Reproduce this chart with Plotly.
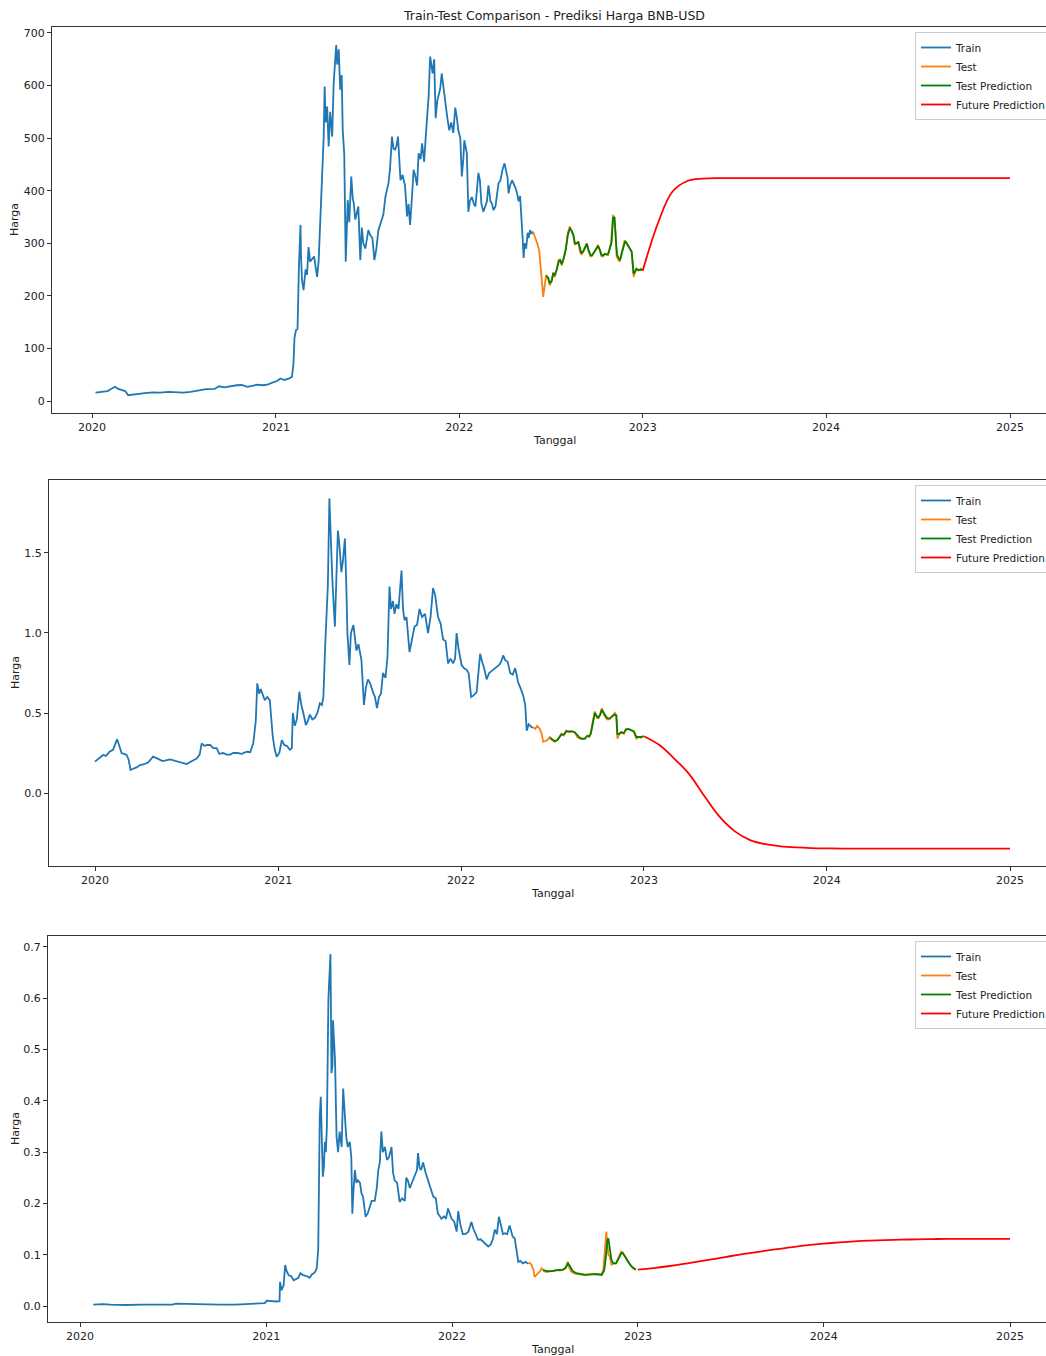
import pandas as pd
import plotly.graph_objects as go

# ---------------- Panel 1 : BNB-USD ----------------
bnb_train_dates = [
    "2020-01-08","2020-01-15","2020-01-22","2020-02-01","2020-02-08","2020-02-16","2020-02-22","2020-03-01","2020-03-07","2020-03-13",
    "2020-03-20","2020-04-01","2020-04-15","2020-05-01","2020-05-15","2020-06-01","2020-06-15","2020-07-01","2020-07-15","2020-08-01",
    "2020-08-15","2020-09-01","2020-09-10","2020-09-20","2020-10-01","2020-10-15","2020-10-25","2020-11-05","2020-11-15","2020-11-25",
    "2020-12-05","2020-12-15","2020-12-25","2021-01-03","2021-01-10","2021-01-18","2021-01-25","2021-02-02","2021-02-05","2021-02-07",
    "2021-02-10","2021-02-13","2021-02-16","2021-02-19","2021-02-20","2021-02-22","2021-02-25","2021-03-01","2021-03-04","2021-03-07",
    "2021-03-10","2021-03-14","2021-03-18","2021-03-21","2021-03-24","2021-03-27","2021-03-30","2021-04-03","2021-04-06","2021-04-08",
    "2021-04-10","2021-04-13","2021-04-16","2021-04-19","2021-04-23","2021-04-26","2021-04-29","2021-05-01","2021-05-03","2021-05-06",
    "2021-05-09","2021-05-12","2021-05-14","2021-05-17","2021-05-20","2021-05-22","2021-05-24","2021-05-27","2021-05-31","2021-06-03",
    "2021-06-05","2021-06-08","2021-06-11","2021-06-14","2021-06-18","2021-06-21","2021-06-24","2021-06-28","2021-07-04","2021-07-08",
    "2021-07-12","2021-07-16","2021-07-20","2021-07-24","2021-07-29","2021-08-03","2021-08-07","2021-08-10","2021-08-13","2021-08-16",
    "2021-08-20","2021-08-23","2021-08-26","2021-08-29","2021-09-01","2021-09-06","2021-09-10","2021-09-15","2021-09-19","2021-09-22",
    "2021-09-25","2021-09-29","2021-10-02","2021-10-05","2021-10-09","2021-10-12","2021-10-16","2021-10-19","2021-10-23","2021-10-26",
    "2021-10-29","2021-11-01","2021-11-04","2021-11-07","2021-11-09","2021-11-12","2021-11-15","2021-11-18","2021-11-21","2021-11-24",
    "2021-11-27","2021-12-01","2021-12-04","2021-12-08","2021-12-12","2021-12-16","2021-12-20","2021-12-24","2021-12-27","2021-12-30",
    "2022-01-03","2022-01-06","2022-01-09","2022-01-11","2022-01-16","2022-01-19","2022-01-22","2022-01-26","2022-01-30","2022-02-02",
    "2022-02-05","2022-02-08","2022-02-11","2022-02-14","2022-02-18","2022-02-22","2022-02-25","2022-02-28","2022-03-04","2022-03-07",
    "2022-03-10","2022-03-14","2022-03-17","2022-03-20","2022-03-24","2022-03-28","2022-04-01","2022-04-04","2022-04-07","2022-04-09",
    "2022-04-12","2022-04-16","2022-04-19","2022-04-23","2022-04-26","2022-04-29","2022-05-02","2022-05-05","2022-05-07","2022-05-09",
    "2022-05-11","2022-05-14","2022-05-17","2022-05-19","2022-05-22","2022-05-25","2022-05-28"]
bnb_train = [
    16,17,17.5,19,23,27,23,21,19,11,
    12,12.5,15,16.5,16,17.5,16.5,16,17.5,20,
    22.5,23,28,26,28,30,30.5,27,29,31,
    30,31,35,38,43,40,42,46,72,120,
    135,137,260,335,275,230,211,250,240,293,
    265,270,275,255,236,265,338,401,500,598,
    530,560,484,550,503,605,640,677,640,669,
    592,620,515,470,265,330,382,340,427,385,
    376,345,357,370,268,330,300,290,325,315,
    310,268,290,325,340,355,389,400,414,440,
    503,480,478,485,503,420,430,410,351,375,
    335,390,440,430,410,471,460,490,455,500,
    547,580,655,640,623,650,538,570,580,594,
    623,590,567,540,515,530,510,558,540,515,
    500,427,460,496,471,360,380,388,375,370,
    400,434,420,375,360,370,380,410,380,375,
    363,370,390,414,420,440,452,440,425,395,
    410,420,414,405,395,380,390,325,310,272,
    300,290,320,310,325,318,322]

bnb_test_dates = [
    "2022-05-28","2022-06-01","2022-06-05","2022-06-09","2022-06-12","2022-06-13","2022-06-15","2022-06-17","2022-06-20","2022-06-23",
    "2022-06-27","2022-06-30","2022-07-04","2022-07-07","2022-07-10","2022-07-14","2022-07-18","2022-07-20","2022-07-24","2022-07-28",
    "2022-08-01","2022-08-05","2022-08-09","2022-08-12","2022-08-16","2022-08-19","2022-08-23","2022-08-26","2022-08-29","2022-09-01",
    "2022-09-05","2022-09-09","2022-09-11","2022-09-15","2022-09-19","2022-09-21","2022-09-25","2022-09-28","2022-10-01","2022-10-04",
    "2022-10-08","2022-10-11","2022-10-14","2022-10-18","2022-10-21","2022-10-24","2022-10-27","2022-10-30","2022-11-03","2022-11-05",
    "2022-11-08","2022-11-10","2022-11-13","2022-11-16","2022-11-20","2022-11-23","2022-11-26","2022-11-30","2022-12-03","2022-12-06",
    "2022-12-10","2022-12-14","2022-12-17","2022-12-19","2022-12-23","2022-12-26","2022-12-29","2022-12-31"]
bnb_test = [
    322,312,300,287,255,230,215,198,220,240,
    232,220,228,245,236,250,270,268,258,275,
    290,320,332,325,315,297,300,303,285,278,
    285,295,300,285,275,275,280,285,290,297,
    285,275,275,280,278,278,290,300,354,345,
    320,275,270,265,280,295,306,300,295,290,
    285,236,248,252,248,250,252,248]

bnb_pred_dates = [
    "2022-06-23","2022-06-27","2022-06-30","2022-07-04","2022-07-07","2022-07-10","2022-07-14","2022-07-18","2022-07-21","2022-07-24",
    "2022-07-28","2022-08-01","2022-08-05","2022-08-09","2022-08-12","2022-08-16","2022-08-19","2022-08-23","2022-08-26","2022-08-29",
    "2022-09-01","2022-09-05","2022-09-09","2022-09-12","2022-09-15","2022-09-19","2022-09-22","2022-09-25","2022-09-28","2022-10-01",
    "2022-10-04","2022-10-08","2022-10-11","2022-10-14","2022-10-18","2022-10-21","2022-10-24","2022-10-27","2022-10-31","2022-11-03",
    "2022-11-06","2022-11-09","2022-11-11","2022-11-14","2022-11-17","2022-11-20","2022-11-23","2022-11-27","2022-11-30","2022-12-03",
    "2022-12-06","2022-12-10","2022-12-14","2022-12-17","2022-12-20","2022-12-24","2022-12-28","2022-12-31"]
bnb_pred = [
    238,234,224,229,243,240,250,266,268,260,
    272,288,316,328,325,316,300,300,302,288,
    281,285,294,299,288,278,277,281,286,290,
    295,287,278,277,280,279,279,288,302,348,
    350,300,278,272,268,280,293,304,300,295,
    290,284,242,248,251,249,250,249]

# ---------------- Panel 2 ----------------
xrp_train_dates = [
    "2020-01-01","2020-01-06","2020-01-12","2020-01-17","2020-01-23","2020-01-30","2020-02-06","2020-02-10","2020-02-14","2020-02-18",
    "2020-02-23","2020-02-28","2020-03-04","2020-03-08","2020-03-12","2020-03-16","2020-03-24","2020-03-31","2020-04-08","2020-04-16",
    "2020-04-26","2020-05-05","2020-05-15","2020-05-30","2020-06-10","2020-06-20","2020-07-02","2020-07-10","2020-07-22","2020-07-28",
    "2020-08-01","2020-08-06","2020-08-12","2020-08-18","2020-08-24","2020-08-31","2020-09-05","2020-09-13","2020-09-20","2020-09-27",
    "2020-10-03","2020-10-12","2020-10-20","2020-10-30","2020-11-06","2020-11-12","2020-11-17","2020-11-20","2020-11-24","2020-11-27",
    "2020-12-01","2020-12-05","2020-12-10","2020-12-15","2020-12-21","2020-12-25","2020-12-29","2021-01-03","2021-01-08","2021-01-13",
    "2021-01-18","2021-01-24","2021-01-28","2021-01-30","2021-02-03","2021-02-07","2021-02-12","2021-02-16","2021-02-20","2021-02-25",
    "2021-03-01","2021-03-05","2021-03-10","2021-03-15","2021-03-20","2021-03-25","2021-03-29","2021-04-01","2021-04-05","2021-04-07",
    "2021-04-10","2021-04-13","2021-04-16","2021-04-19","2021-04-22","2021-04-24","2021-04-27","2021-04-30","2021-05-03","2021-05-07",
    "2021-05-10","2021-05-14","2021-05-17","2021-05-19","2021-05-23","2021-05-26","2021-05-31","2021-06-03","2021-06-06","2021-06-10",
    "2021-06-16","2021-06-21","2021-06-25","2021-06-29","2021-07-04","2021-07-09","2021-07-13","2021-07-17","2021-07-21","2021-07-25",
    "2021-07-29","2021-08-03","2021-08-07","2021-08-11","2021-08-14","2021-08-18","2021-08-21","2021-08-25","2021-08-29","2021-09-04",
    "2021-09-07","2021-09-10","2021-09-14","2021-09-20","2021-09-25","2021-09-30","2021-10-05","2021-10-10","2021-10-15","2021-10-21",
    "2021-10-27","2021-11-01","2021-11-06","2021-11-10","2021-11-16","2021-11-21","2021-11-26","2021-12-01","2021-12-06","2021-12-11",
    "2021-12-16","2021-12-20","2021-12-23","2021-12-27","2022-01-02","2022-01-07","2022-01-12","2022-01-16","2022-01-21","2022-01-26",
    "2022-02-01","2022-02-05","2022-02-08","2022-02-12","2022-02-16","2022-02-21","2022-02-26","2022-03-02","2022-03-06","2022-03-12",
    "2022-03-18","2022-03-22","2022-03-26","2022-03-30","2022-04-04","2022-04-09","2022-04-14","2022-04-19","2022-04-25","2022-04-29",
    "2022-05-05","2022-05-09","2022-05-12","2022-05-16","2022-05-19","2022-05-22","2022-05-25"]
xrp_train = [
    0.196,0.21,0.225,0.238,0.232,0.258,0.27,0.30,0.335,0.30,
    0.25,0.245,0.238,0.21,0.144,0.15,0.16,0.175,0.18,0.19,
    0.227,0.215,0.20,0.21,0.20,0.19,0.181,0.195,0.216,0.24,
    0.31,0.295,0.30,0.30,0.28,0.28,0.245,0.25,0.24,0.24,
    0.25,0.25,0.245,0.258,0.255,0.31,0.45,0.685,0.62,0.65,
    0.62,0.58,0.60,0.58,0.35,0.27,0.227,0.25,0.33,0.30,
    0.295,0.27,0.28,0.50,0.42,0.46,0.633,0.55,0.50,0.425,
    0.45,0.49,0.46,0.47,0.50,0.56,0.55,0.60,0.95,1.10,
    1.30,1.84,1.55,1.33,1.15,1.04,1.35,1.64,1.55,1.38,
    1.45,1.59,1.27,1.00,0.80,1.00,1.05,0.98,0.89,0.93,
    0.83,0.55,0.66,0.71,0.68,0.63,0.60,0.53,0.60,0.62,
    0.75,0.72,0.85,1.29,1.15,1.20,1.12,1.18,1.15,1.39,
    1.15,1.08,1.10,0.88,0.95,1.04,1.05,1.15,1.10,1.12,
    1.00,1.10,1.28,1.24,1.10,1.06,0.96,0.95,0.81,0.84,
    0.81,0.84,1.00,0.90,0.80,0.78,0.77,0.75,0.60,0.61,
    0.63,0.78,0.87,0.82,0.78,0.71,0.75,0.76,0.77,0.78,
    0.80,0.82,0.86,0.83,0.82,0.75,0.74,0.78,0.69,0.66,
    0.61,0.55,0.39,0.43,0.42,0.41,0.41]

xrp_test_dates = [
    "2022-05-25","2022-05-29","2022-06-02","2022-06-07","2022-06-11","2022-06-14","2022-06-18","2022-06-22","2022-06-27","2022-07-02",
    "2022-07-07","2022-07-12","2022-07-16","2022-07-20","2022-07-25","2022-07-30","2022-08-04","2022-08-10","2022-08-16","2022-08-21",
    "2022-08-26","2022-08-31","2022-09-05","2022-09-10","2022-09-14","2022-09-17","2022-09-21","2022-09-25","2022-09-29","2022-10-02",
    "2022-10-06","2022-10-09","2022-10-13","2022-10-19","2022-10-24","2022-10-29","2022-11-04","2022-11-07","2022-11-09","2022-11-13",
    "2022-11-17","2022-11-22","2022-11-26","2022-12-01","2022-12-07","2022-12-12","2022-12-17","2022-12-22","2022-12-26","2022-12-31"]
xrp_test = [
    0.41,0.40,0.42,0.40,0.37,0.32,0.325,0.33,0.35,0.33,
    0.32,0.33,0.35,0.37,0.36,0.39,0.38,0.385,0.38,0.35,
    0.34,0.335,0.34,0.36,0.35,0.38,0.45,0.51,0.47,0.47,
    0.50,0.53,0.49,0.46,0.46,0.48,0.50,0.48,0.34,0.37,
    0.38,0.37,0.40,0.40,0.39,0.385,0.34,0.35,0.345,0.355]

xrp_pred_dates = [
    "2022-06-27","2022-07-02","2022-07-07","2022-07-12","2022-07-16","2022-07-20","2022-07-25","2022-07-30","2022-08-04","2022-08-10",
    "2022-08-16","2022-08-21","2022-08-26","2022-08-31","2022-09-05","2022-09-10","2022-09-14","2022-09-17","2022-09-21","2022-09-25",
    "2022-09-29","2022-10-02","2022-10-06","2022-10-09","2022-10-13","2022-10-19","2022-10-24","2022-10-29","2022-11-04","2022-11-07",
    "2022-11-09","2022-11-13","2022-11-17","2022-11-22","2022-11-26","2022-12-01","2022-12-07","2022-12-12","2022-12-17","2022-12-22",
    "2022-12-26","2022-12-31"]
xrp_pred = [
    0.345,0.335,0.325,0.33,0.345,0.365,0.365,0.385,0.385,0.385,
    0.38,0.36,0.345,0.34,0.34,0.355,0.355,0.37,0.43,0.50,
    0.48,0.47,0.49,0.52,0.50,0.47,0.465,0.475,0.49,0.485,
    0.37,0.37,0.38,0.375,0.395,0.40,0.39,0.385,0.35,0.35,
    0.35,0.355]

# ---------------- Panel 3 ----------------
doge_train_dates = [
    "2020-01-27","2020-02-15","2020-03-01","2020-03-15","2020-04-01","2020-05-01","2020-06-01","2020-07-01","2020-07-07","2020-08-01",
    "2020-09-01","2020-10-01","2020-11-01","2020-12-01","2020-12-20","2020-12-29","2021-01-02","2021-01-10","2021-01-20","2021-01-27",
    "2021-01-28","2021-01-31","2021-02-04","2021-02-07","2021-02-10","2021-02-14","2021-02-19","2021-02-24","2021-03-01","2021-03-05",
    "2021-03-09","2021-03-14","2021-03-18","2021-03-22","2021-03-27","2021-04-01","2021-04-06","2021-04-10","2021-04-13","2021-04-14",
    "2021-04-16","2021-04-18","2021-04-20","2021-04-22","2021-04-24","2021-04-26","2021-04-28","2021-04-30","2021-05-03","2021-05-05",
    "2021-05-07","2021-05-09","2021-05-11","2021-05-12","2021-05-14","2021-05-16","2021-05-19","2021-05-22","2021-05-25","2021-05-29",
    "2021-06-01","2021-06-04","2021-06-07","2021-06-10","2021-06-14","2021-06-17","2021-06-19","2021-06-21","2021-06-24","2021-06-27",
    "2021-06-30","2021-07-04","2021-07-07","2021-07-10","2021-07-15","2021-07-19","2021-07-23","2021-07-27","2021-08-02","2021-08-06",
    "2021-08-09","2021-08-12","2021-08-15","2021-08-18","2021-08-22","2021-08-26","2021-08-30","2021-09-04","2021-09-07","2021-09-10",
    "2021-09-15","2021-09-20","2021-09-25","2021-09-30","2021-10-03","2021-10-06","2021-10-10","2021-10-14","2021-10-20","2021-10-24",
    "2021-10-26","2021-10-29","2021-11-01","2021-11-05","2021-11-10","2021-11-15","2021-11-20","2021-11-25","2021-11-30","2021-12-04",
    "2021-12-08","2021-12-11","2021-12-16","2021-12-20","2021-12-24","2021-12-28","2021-12-31","2022-01-05","2022-01-10","2022-01-13",
    "2022-01-17","2022-01-22","2022-01-27","2022-02-02","2022-02-08","2022-02-12","2022-02-17","2022-02-21","2022-02-26","2022-03-03",
    "2022-03-08","2022-03-13","2022-03-18","2022-03-22","2022-03-26","2022-03-30","2022-04-03","2022-04-07","2022-04-11","2022-04-15",
    "2022-04-19","2022-04-24","2022-04-27","2022-04-30","2022-05-04","2022-05-08","2022-05-11","2022-05-15","2022-05-20","2022-05-25",
    "2022-05-30"]
doge_train = [
    0.0025,0.0035,0.0025,0.0018,0.0019,0.0025,0.0026,0.0027,0.0045,0.0037,
    0.0033,0.0026,0.0027,0.0034,0.0045,0.0055,0.0105,0.0095,0.0088,0.0095,
    0.047,0.031,0.040,0.080,0.068,0.060,0.058,0.050,0.052,0.055,
    0.064,0.060,0.059,0.058,0.055,0.062,0.065,0.073,0.110,0.200,
    0.369,0.408,0.300,0.252,0.270,0.320,0.300,0.350,0.600,0.658,
    0.686,0.454,0.470,0.557,0.500,0.480,0.330,0.300,0.340,0.310,
    0.424,0.370,0.330,0.310,0.320,0.290,0.180,0.220,0.265,0.240,
    0.245,0.240,0.220,0.213,0.174,0.180,0.195,0.205,0.205,0.230,
    0.265,0.280,0.340,0.300,0.310,0.285,0.290,0.310,0.260,0.245,
    0.240,0.203,0.210,0.205,0.250,0.245,0.230,0.240,0.257,0.265,
    0.298,0.270,0.265,0.280,0.260,0.245,0.230,0.213,0.210,0.180,
    0.175,0.170,0.175,0.170,0.190,0.180,0.170,0.165,0.145,0.185,
    0.160,0.140,0.140,0.145,0.164,0.150,0.140,0.129,0.130,0.125,
    0.120,0.116,0.120,0.130,0.149,0.140,0.174,0.155,0.140,0.142,
    0.140,0.157,0.145,0.135,0.132,0.110,0.086,0.088,0.083,0.086,
    0.083]

doge_test_dates = [
    "2022-05-30","2022-06-03","2022-06-06","2022-06-10","2022-06-12","2022-06-15","2022-06-19","2022-06-23","2022-06-26","2022-07-01",
    "2022-07-06","2022-07-12","2022-07-18","2022-07-25","2022-08-01","2022-08-07","2022-08-12","2022-08-16","2022-08-19","2022-08-23",
    "2022-08-30","2022-09-08","2022-09-15","2022-09-21","2022-09-28","2022-10-08","2022-10-15","2022-10-21","2022-10-25","2022-10-28",
    "2022-10-31","2022-11-02","2022-11-04","2022-11-07","2022-11-10","2022-11-13","2022-11-19","2022-11-24","2022-11-29","2022-12-02",
    "2022-12-05","2022-12-09","2022-12-12","2022-12-17","2022-12-22","2022-12-28"]
doge_test = [
    0.083,0.084,0.080,0.070,0.057,0.060,0.063,0.068,0.0735,0.068,
    0.066,0.067,0.068,0.070,0.069,0.071,0.075,0.086,0.075,0.067,
    0.063,0.062,0.061,0.060,0.062,0.063,0.061,0.060,0.070,0.109,
    0.145,0.120,0.100,0.096,0.080,0.083,0.083,0.095,0.106,0.104,
    0.100,0.093,0.087,0.080,0.074,0.070]

doge_pred_dates = [
    "2022-06-29","2022-07-06","2022-07-12","2022-07-18","2022-07-25","2022-08-01","2022-08-07","2022-08-12","2022-08-17","2022-08-21",
    "2022-08-26","2022-09-02","2022-09-10","2022-09-18","2022-09-25","2022-10-05","2022-10-15","2022-10-22","2022-10-27","2022-10-30",
    "2022-11-02","2022-11-04","2022-11-07","2022-11-10","2022-11-14","2022-11-19","2022-11-24","2022-11-29","2022-12-02","2022-12-06",
    "2022-12-11","2022-12-17","2022-12-22","2022-12-28"]
doge_pred = [
    0.070,0.068,0.068,0.068,0.070,0.070,0.071,0.074,0.083,0.077,
    0.068,0.064,0.062,0.061,0.061,0.062,0.062,0.061,0.070,0.095,
    0.128,0.132,0.112,0.090,0.083,0.083,0.092,0.102,0.104,0.098,
    0.088,0.080,0.075,0.071]

# ---------------- Future predictions (monthly, Jan 2023 - Jan 2025) ----------------
future_dates = pd.date_range("2023-01-01", "2025-01-01", freq="MS")
bnb_future = [248,340,398,419,423,424,424,424,424,424,424,424,424,
              424,424,424,424,424,424,424,424,424,424,424,424]
xrp_future = [0.355,0.30,0.22,0.12,-0.015,-0.148,-0.238,-0.294,-0.32,-0.333,-0.34,-0.344,-0.346,
              -0.347,-0.347,-0.347,-0.347,-0.347,-0.347,-0.347,-0.347,-0.347,-0.347,-0.347,-0.347]
doge_future = [0.071,0.074,0.0775,0.082,0.087,0.092,0.097,0.102,0.1065,0.111,0.115,0.1185,0.1215,
               0.124,0.126,0.1275,0.1285,0.1293,0.13,0.1305,0.1308,0.131,0.131,0.131,0.131]

y_ticks = [[0,100,200,300,400,500,600,700], [0.0,0.5,1.0,1.5], [0.0,0.1,0.2,0.3,0.4,0.5,0.6,0.7]]
y_ticktext = [["0","100","200","300","400","500","600","700"],
              ["0.0","0.5","1.0","1.5"],
              ["0.0","0.1","0.2","0.3","0.4","0.5","0.6","0.7"]]
x_tick_years = ["2020","2021","2022","2023","2024","2025"]

# ---------------- layout geometry ----------------
W, H = 1080, 1356
left_px = [52, 49, 48]
right_px = 1056
top_px = [27, 480, 936]
bot_px = [413, 866, 1322]
tick2020_px = [92, 95, 80]
tick2025_px = [1010, 1010, 1010]
yrange = [[-22.8, 711.4], [-0.456, 1.956], [-0.0312, 0.7214]]
legend_top = [32, 485, 941]

COL = {"Train": "#1f77b4", "Test": "#ff7f0e", "Test Prediction": "#008000", "Future Prediction": "#ff0000"}
FONT = "DejaVu Sans, Arial, sans-serif"

panels = [
    (bnb_train_dates, bnb_train, bnb_test_dates, bnb_test, bnb_pred_dates, bnb_pred, bnb_future),
    (xrp_train_dates, xrp_train, xrp_test_dates, xrp_test, xrp_pred_dates, xrp_pred, xrp_future),
    (doge_train_dates, doge_train, doge_test_dates, doge_test, doge_pred_dates, doge_pred, doge_future),
]

fig = go.Figure()
base = pd.Timestamp("2020-01-01")
annotations = []
layout_extra = {}
for i, (trd, trv, ted, tev, prd, prv, fuv) in enumerate(panels):
    n = "" if i == 0 else str(i + 1)
    xa, ya, lg = "x" + n, "y" + n, "legend" + n
    series = [
        ("Train", trd, trv, "linear"),
        ("Test", ted, tev, "linear"),
        ("Test Prediction", prd, prv, "linear"),
        ("Future Prediction", future_dates, fuv, "spline"),
    ]
    for name, xs, ys, shape in series:
        fig.add_trace(go.Scatter(
            x=pd.to_datetime(xs), y=ys, name=name, mode="lines",
            line=dict(color=COL[name], width=1.8, shape=shape),
            xaxis=xa, yaxis=ya, legend=lg, showlegend=True))

    dpp = 1827.0 / (tick2025_px[i] - tick2020_px[i])
    x0 = base + pd.Timedelta(days=(left_px[i] - tick2020_px[i]) * dpp)
    x1 = base + pd.Timedelta(days=(right_px - tick2020_px[i]) * dpp)
    axis_common = dict(showline=True, linecolor="#333333", linewidth=1, mirror=True,
                       ticks="outside", ticklen=4, tickwidth=1, tickcolor="#333333",
                       showgrid=False, zeroline=False,
                       tickfont=dict(family=FONT, size=11, color="#222222"))
    layout_extra["xaxis" + n] = dict(
        axis_common, type="date", range=[x0, x1],
        domain=[left_px[i] / W, right_px / W], anchor=ya,
        tickvals=pd.to_datetime([y + "-01-01" for y in x_tick_years]), ticktext=x_tick_years)
    layout_extra["yaxis" + n] = dict(
        axis_common, range=yrange[i],
        domain=[1 - bot_px[i] / H, 1 - top_px[i] / H], anchor=xa,
        tickvals=y_ticks[i], ticktext=y_ticktext[i])
    layout_extra[lg] = dict(
        x=915 / W, y=1 - legend_top[i] / H, xanchor="left", yanchor="top",
        bgcolor="rgba(255,255,255,0.85)", bordercolor="#cccccc", borderwidth=1,
        font=dict(family=FONT, size=10.5, color="#222222"), itemwidth=30)
    annotations.append(dict(text="Tanggal", x=(left_px[i] + right_px) / 2 / W,
                            y=1 - (bot_px[i] + 27) / H, xref="paper", yref="paper",
                            xanchor="center", yanchor="middle",
                            showarrow=False, font=dict(family=FONT, size=11, color="#222222")))
    annotations.append(dict(text="Harga", x=15 / W, y=1 - (top_px[i] + bot_px[i]) / 2 / H,
                            xref="paper", yref="paper", textangle=-90, showarrow=False,
                            xanchor="center", yanchor="middle",
                            font=dict(family=FONT, size=11, color="#222222")))

annotations.append(dict(text="Train-Test Comparison - Prediksi Harga BNB-USD",
                        x=(left_px[0] + right_px) / 2 / W, y=1 - 16 / H, xref="paper", yref="paper",
                        xanchor="center", yanchor="middle",
                        showarrow=False, font=dict(family=FONT, size=12.5, color="#222222")))

fig.update_layout(
    width=W, height=H, template="none",
    paper_bgcolor="white", plot_bgcolor="white",
    margin=dict(l=0, r=0, t=0, b=0, pad=0, autoexpand=False),
    annotations=annotations, font=dict(family=FONT), **layout_extra)

fig.write_html("out.html", config={"displayModeBar": False},
               post_script="document.body.style.margin='0';document.body.style.overflow='hidden';")
